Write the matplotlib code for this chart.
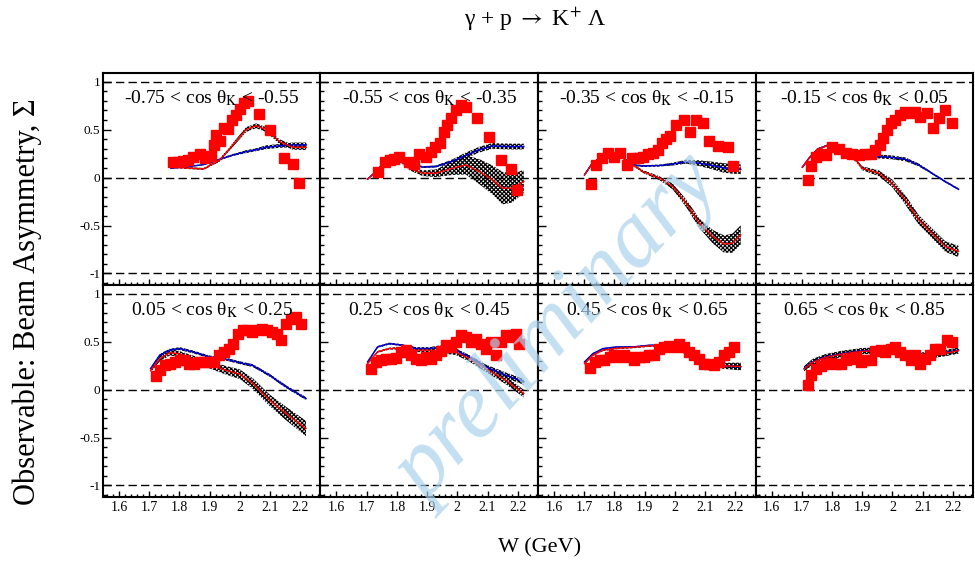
import matplotlib
matplotlib.use("Agg")
import matplotlib.pyplot as plt
from matplotlib.ticker import MultipleLocator
import numpy as np

plt.rcParams['font.family'] = ['Liberation Serif', 'DejaVu Serif']
plt.rcParams['mathtext.fontset'] = 'stix'
plt.rcParams['hatch.linewidth'] = 0.9

# cos(theta_K) bins, one per panel (top row then bottom row)
bin_labels = ['-0.75 < cos θ$_\\mathrm{K}$ < -0.55', '-0.55 < cos θ$_\\mathrm{K}$ < -0.35',
              '-0.35 < cos θ$_\\mathrm{K}$ < -0.15', '-0.15 < cos θ$_\\mathrm{K}$ < 0.05',
              '0.05 < cos θ$_\\mathrm{K}$ < 0.25', '0.25 < cos θ$_\\mathrm{K}$ < 0.45',
              '0.45 < cos θ$_\\mathrm{K}$ < 0.65', '0.65 < cos θ$_\\mathrm{K}$ < 0.85']

# measured beam asymmetry (red squares)
data_w = [
    [1.779, 1.796, 1.812, 1.829, 1.845, 1.867, 1.886, 1.903, 1.914, 1.922, 1.936, 1.947, 1.961, 1.975,
     1.988, 1.999, 2.014, 2.027, 2.062, 2.101, 2.145, 2.175, 2.195],
    [1.736, 1.761, 1.777, 1.791, 1.808, 1.841, 1.857, 1.872, 1.896, 1.912, 1.927, 1.942, 1.956, 1.967,
     1.978, 1.995, 2.011, 2.028, 2.064, 2.105, 2.146, 2.176, 2.196],
    [1.721, 1.738, 1.758, 1.778, 1.800, 1.819, 1.841, 1.859, 1.877, 1.894, 1.910, 1.927, 1.943, 1.958,
     1.971, 1.985, 2.004, 2.029, 2.051, 2.070, 2.092, 2.114, 2.143, 2.176, 2.194],
    [1.721, 1.730, 1.746, 1.763, 1.779, 1.801, 1.823, 1.845, 1.867, 1.889, 1.911, 1.928, 1.944, 1.959,
     1.970, 1.983, 1.997, 2.010, 2.025, 2.041, 2.057, 2.074, 2.093, 2.115, 2.134, 2.153, 2.175, 2.197],
    [1.721, 1.735, 1.752, 1.768, 1.785, 1.801, 1.815, 1.831, 1.848, 1.865, 1.882, 1.898, 1.915, 1.931,
     1.948, 1.964, 1.977, 1.994, 2.010, 2.025, 2.041, 2.058, 2.074, 2.090, 2.106, 2.123, 2.137, 2.153,
     2.170, 2.186, 2.203],
    [1.714, 1.731, 1.747, 1.764, 1.780, 1.797, 1.813, 1.830, 1.846, 1.863, 1.879, 1.896, 1.912, 1.929,
     1.945, 1.962, 1.978, 1.995, 2.011, 2.028, 2.044, 2.061, 2.077, 2.094, 2.110, 2.127, 2.143, 2.160,
     2.176, 2.193, 2.204],
    [1.718, 1.734, 1.751, 1.767, 1.784, 1.800, 1.817, 1.833, 1.850, 1.866, 1.883, 1.899, 1.916, 1.932,
     1.949, 1.965, 1.982, 1.998, 2.015, 2.031, 2.048, 2.064, 2.081, 2.097, 2.114, 2.130, 2.147, 2.163,
     2.180, 2.196],
    [1.721, 1.730, 1.746, 1.763, 1.779, 1.796, 1.812, 1.829, 1.845, 1.862, 1.878, 1.895, 1.911, 1.928,
     1.944, 1.961, 1.977, 1.994, 2.010, 2.026, 2.043, 2.060, 2.076, 2.093, 2.109, 2.126, 2.142, 2.159,
     2.181, 2.197],
]
data_sigma = [
    [0.160, 0.167, 0.177, 0.183, 0.219, 0.243, 0.201, 0.229, 0.340, 0.444, 0.382, 0.514, 0.507, 0.600,
     0.653, 0.712, 0.781, 0.802, 0.663, 0.497, 0.208, 0.139, -0.052],
    [0.063, 0.160, 0.184, 0.194, 0.219, 0.167, 0.142, 0.243, 0.219, 0.271, 0.316, 0.358, 0.479, 0.549,
     0.618, 0.705, 0.757, 0.740, 0.625, 0.427, 0.184, 0.090, -0.128],
    [-0.069, 0.132, 0.201, 0.253, 0.219, 0.260, 0.132, 0.201, 0.201, 0.219, 0.243, 0.260, 0.288, 0.358,
     0.399, 0.434, 0.549, 0.601, 0.479, 0.601, 0.566, 0.382, 0.330, 0.316, 0.122],
    [-0.024, 0.122, 0.219, 0.243, 0.236, 0.316, 0.295, 0.253, 0.243, 0.236, 0.243, 0.243, 0.288, 0.340,
     0.410, 0.497, 0.566, 0.601, 0.653, 0.688, 0.670, 0.688, 0.635, 0.677, 0.514, 0.618, 0.705, 0.566],
    [0.139, 0.208, 0.253, 0.271, 0.288, 0.306, 0.306, 0.271, 0.271, 0.288, 0.288, 0.288, 0.288, 0.358,
     0.392, 0.427, 0.479, 0.583, 0.618, 0.625, 0.601, 0.618, 0.635, 0.618, 0.601, 0.583, 0.514, 0.688,
     0.740, 0.757, 0.688],
    [0.219, 0.288, 0.313, 0.323, 0.323, 0.333, 0.392, 0.410, 0.358, 0.323, 0.306, 0.340, 0.323, 0.358,
     0.403, 0.462, 0.444, 0.497, 0.566, 0.549, 0.497, 0.531, 0.479, 0.427, 0.497, 0.358, 0.497, 0.566,
     0.549, 0.576, 0.479],
    [0.229, 0.288, 0.306, 0.313, 0.340, 0.358, 0.340, 0.358, 0.340, 0.306, 0.340, 0.340, 0.358, 0.358,
     0.427, 0.444, 0.455, 0.444, 0.479, 0.444, 0.392, 0.358, 0.323, 0.271, 0.271, 0.253, 0.288, 0.358,
     0.392, 0.444],
    [0.045, 0.149, 0.219, 0.243, 0.271, 0.278, 0.271, 0.271, 0.306, 0.323, 0.340, 0.288, 0.306, 0.313,
     0.403, 0.410, 0.392, 0.427, 0.444, 0.392, 0.358, 0.306, 0.358, 0.271, 0.323, 0.358, 0.427, 0.427,
     0.514, 0.497],
]
# typical statistical error per panel
data_err = [0.04, 0.04, 0.04, 0.035, 0.03, 0.03, 0.03, 0.03]

# model curves: red with band, blue with band
model_w = [
    [1.772, 1.820, 1.880, 1.933, 1.977, 2.021, 2.054, 2.087, 2.131, 2.175, 2.220],
    [1.703, 1.736, 1.764, 1.797, 1.841, 1.885, 1.929, 1.984, 2.028, 2.072, 2.116, 2.149, 2.182, 2.220],
    [1.701, 1.723, 1.745, 1.778, 1.822, 1.861, 1.894, 1.949, 1.993, 2.037, 2.081, 2.125, 2.163, 2.191, 2.218],
    [1.702, 1.724, 1.752, 1.790, 1.829, 1.867, 1.900, 1.955, 1.999, 2.043, 2.087, 2.131, 2.175, 2.219],
    [1.705, 1.735, 1.768, 1.801, 1.845, 1.900, 1.955, 2.000, 2.043, 2.098, 2.153, 2.219],
    [1.703, 1.736, 1.775, 1.819, 1.863, 1.907, 1.951, 1.995, 2.039, 2.094, 2.160, 2.220],
    [1.701, 1.729, 1.762, 1.806, 1.861, 1.916, 1.971, 2.015, 2.059, 2.092, 2.147, 2.218],
    [1.708, 1.735, 1.779, 1.834, 1.900, 1.955, 2.010, 2.065, 2.120, 2.175, 2.219],
]
model_red = [
    [0.115, 0.100, 0.090, 0.180, 0.340, 0.500, 0.540, 0.500, 0.375, 0.316, 0.316],
    [-0.017, 0.080, 0.184, 0.210, 0.097, 0.045, 0.045, 0.097, 0.132, 0.063, -0.024, -0.110, -0.110, -0.040],
    [0.028, 0.132, 0.191, 0.236, 0.219, 0.130, 0.063, -0.007, -0.094, -0.267, -0.476, -0.615, -0.694, -0.684, -0.597],
    [0.108, 0.201, 0.295, 0.340, 0.306, 0.230, 0.097, 0.045, -0.059, -0.233, -0.441, -0.580, -0.719, -0.771],
    [0.200, 0.323, 0.385, 0.370, 0.320, 0.260, 0.200, 0.160, 0.063, -0.110, -0.250, -0.406],
    [0.271, 0.392, 0.427, 0.430, 0.410, 0.410, 0.400, 0.390, 0.323, 0.219, 0.097, -0.042],
    [0.271, 0.360, 0.410, 0.430, 0.440, 0.455, 0.455, 0.410, 0.355, 0.310, 0.250, 0.240],
    [0.215, 0.283, 0.335, 0.370, 0.398, 0.405, 0.387, 0.353, 0.353, 0.377, 0.405],
]
model_red_band = [
    [0.010, 0.010, 0.010, 0.015, 0.020, 0.025, 0.025, 0.025, 0.025, 0.025, 0.030],
    [0.005, 0.005, 0.005, 0.010, 0.020, 0.030, 0.040, 0.070, 0.100, 0.130, 0.150, 0.170, 0.150, 0.120],
    [0.010, 0.010, 0.010, 0.010, 0.010, 0.010, 0.015, 0.020, 0.030, 0.040, 0.050, 0.070, 0.090, 0.100, 0.100],
    [0.010, 0.010, 0.010, 0.010, 0.010, 0.015, 0.020, 0.030, 0.040, 0.050, 0.050, 0.050, 0.055, 0.060],
    [0.020, 0.030, 0.030, 0.030, 0.035, 0.040, 0.045, 0.050, 0.055, 0.060, 0.070, 0.080],
    [0.010, 0.010, 0.010, 0.015, 0.020, 0.020, 0.025, 0.030, 0.030, 0.035, 0.040, 0.040],
    [0.010, 0.010, 0.010, 0.010, 0.010, 0.010, 0.010, 0.015, 0.015, 0.020, 0.030, 0.040],
    [0.025, 0.030, 0.030, 0.030, 0.030, 0.030, 0.030, 0.030, 0.030, 0.030, 0.030],
]
model_blue = [
    [0.097, 0.110, 0.135, 0.190, 0.235, 0.270, 0.290, 0.316, 0.330, 0.340, 0.340],
    [-0.017, 0.080, 0.184, 0.219, 0.149, 0.110, 0.115, 0.170, 0.230, 0.290, 0.330, 0.325, 0.323, 0.323],
    [0.028, 0.132, 0.191, 0.236, 0.219, 0.132, 0.120, 0.125, 0.140, 0.165, 0.150, 0.125, 0.100, 0.090, 0.087],
    [0.108, 0.201, 0.295, 0.340, 0.306, 0.236, 0.222, 0.219, 0.210, 0.190, 0.132, 0.045, -0.042, -0.122],
    [0.219, 0.358, 0.410, 0.427, 0.392, 0.340, 0.316, 0.280, 0.250, 0.150, 0.030, -0.094],
    [0.288, 0.444, 0.479, 0.462, 0.427, 0.427, 0.444, 0.410, 0.340, 0.236, 0.149, 0.080],
    [0.288, 0.375, 0.427, 0.444, 0.444, 0.462, 0.462, 0.410, 0.358, 0.316, 0.253, 0.236],
    [0.219, 0.288, 0.340, 0.375, 0.403, 0.410, 0.392, 0.358, 0.358, 0.382, 0.410],
]
model_blue_band = [
    [0.005, 0.005, 0.005, 0.010, 0.010, 0.015, 0.015, 0.020, 0.020, 0.025, 0.025],
    [0.005, 0.005, 0.005, 0.005, 0.005, 0.010, 0.010, 0.020, 0.030, 0.030, 0.030, 0.030, 0.030, 0.030],
    [0.010, 0.010, 0.010, 0.010, 0.010, 0.010, 0.010, 0.010, 0.015, 0.020, 0.030, 0.040, 0.050, 0.050, 0.050],
    [0.010, 0.010, 0.010, 0.010, 0.010, 0.010, 0.015, 0.020, 0.020, 0.020, 0.015, 0.010, 0.010, 0.010],
    [0.010, 0.015, 0.015, 0.015, 0.015, 0.015, 0.015, 0.015, 0.015, 0.015, 0.015, 0.015],
    [0.010, 0.010, 0.010, 0.010, 0.015, 0.015, 0.020, 0.020, 0.020, 0.025, 0.030, 0.030],
    [0.005, 0.005, 0.005, 0.005, 0.005, 0.005, 0.005, 0.010, 0.010, 0.015, 0.020, 0.030],
    [0.025, 0.030, 0.030, 0.030, 0.030, 0.030, 0.030, 0.030, 0.030, 0.030, 0.030],
]

fig, axes = plt.subplots(2, 4, figsize=(9.75, 5.61), dpi=100, sharex=True, sharey=True)
fig.subplots_adjust(left=0.1056, right=0.998, bottom=0.1141, top=0.8699, wspace=0, hspace=0)

for i, ax in enumerate(axes.flat):
    w = np.array(model_w[i])
    red = np.array(model_red[i])
    blue = np.array(model_blue[i])
    rb = np.array(model_red_band[i])
    bb = np.array(model_blue_band[i])

    for yy in (1, 0, -1):
        ax.axhline(yy, color='black', lw=1.0, dashes=(6, 3), zorder=1)

    # checkered error bands
    ax.fill_between(w, red - rb, red + rb, facecolor='none', edgecolor='black',
                    hatch='xxxxxxxx', lw=0, zorder=2)
    ax.fill_between(w, blue - bb, blue + bb, facecolor='none', edgecolor='black',
                    hatch='xxxxxxxx', lw=0, zorder=2)
    ax.plot(w, blue, color='#0000cc', lw=1.1, zorder=3)
    ax.plot(w, red, color='#ff0000', lw=1.0, zorder=3)

    ax.errorbar(data_w[i], data_sigma[i], yerr=data_err[i], fmt='s', color='#ff0000',
                ms=7.3, mec='#ff0000', ecolor='black', elinewidth=1, capsize=1.5, zorder=4)

    ax.text(0.5, 0.88, bin_labels[i], transform=ax.transAxes, ha='center', va='center',
            fontsize=14, zorder=5)

    ax.set_xlim(1.547, 2.267)
    ax.set_ylim(-1.12, 1.09)
    ax.xaxis.set_major_locator(MultipleLocator(0.1))
    ax.xaxis.set_minor_locator(MultipleLocator(0.02))
    ax.yaxis.set_major_locator(MultipleLocator(0.5))
    ax.yaxis.set_minor_locator(MultipleLocator(0.1))
    ax.tick_params(which='both', direction='in', labelsize=9.5, width=1, top=False, right=False)
    ax.tick_params(axis='x', which='major', length=4.5, pad=3, labelsize=10)
    ax.tick_params(axis='x', which='minor', length=2.2)
    ax.tick_params(axis='y', which='major', length=6, pad=2)
    ax.tick_params(axis='y', which='minor', length=3)
    for sp in ax.spines.values():
        sp.set_linewidth(1.5)

axes[0, 0].yaxis.set_major_formatter(plt.FuncFormatter(lambda v, p: '%g' % v))
for ax in axes[1]:
    ax.xaxis.set_major_formatter(plt.FuncFormatter(lambda v, p: '%g' % round(v, 1)))

fig.text(0.549, 0.965, 'γ + p $\\rightarrow$ K$^{+}$ Λ', ha='center', va='center', fontsize=17)
fig.text(0.028, 0.462, 'Observable: Beam Asymmetry, Σ', rotation=90, ha='center', va='center', fontsize=22)
fig.text(0.553, 0.023, 'W (GeV)', ha='center', va='center', fontsize=16)

# watermark
fig.text(0.573, 0.41, 'preliminary', rotation=47, ha='center', va='center', fontsize=67,
         style='italic', color='#a9d2ec', alpha=0.7, zorder=10)

fig.savefig('out.png', dpi=100)
